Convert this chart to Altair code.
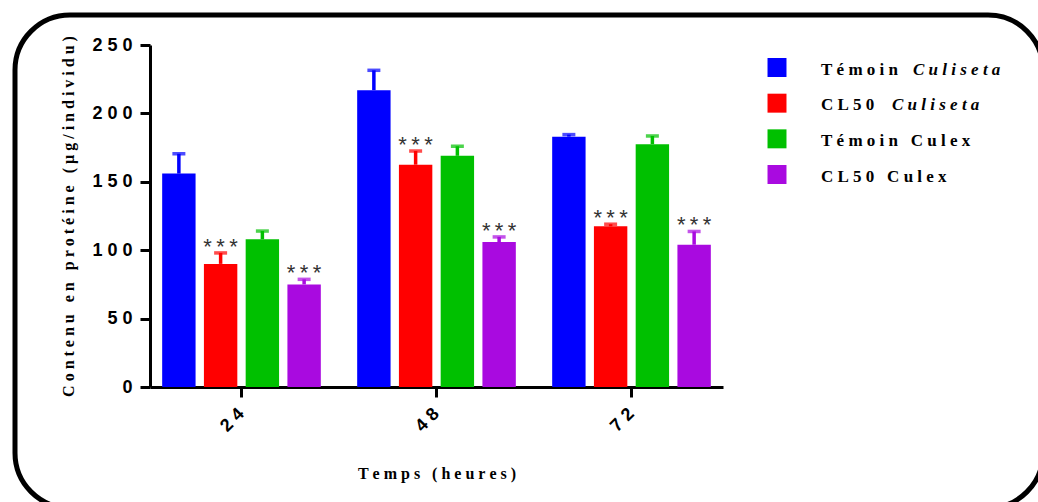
import altair as alt
import pandas as pd

# ---------------- data ----------------
times = ["24", "48", "72"]
series = ["Témoin Culiseta", "CL50 Culiseta", "Témoin Culex", "CL50 Culex"]
colors = ["#0000FF", "#FF0000", "#00C000", "#A90AE0"]

temoin_culiseta_mean = [156, 217, 183]
temoin_culiseta_sem = [14.5, 14.5, 1.5]
cl50_culiseta_mean = [90, 162.5, 117.5]
cl50_culiseta_sem = [8, 10, 1.5]
temoin_culex_mean = [108, 169, 177.5]
temoin_culex_sem = [6, 7, 6]
cl50_culex_mean = [75, 106, 104]
cl50_culex_sem = [3.7, 3.7, 9.7]
stars = ["", "***", "", "***"]

legend_upright = ["Témoin", "CL50", "Témoin Culex", "CL50 Culex"]
legend_italic = ["Culiseta", "Culiseta", "", ""]

y_ticks = [0, 50, 100, 150, 200, 250]

NB = "\u00a0"


def spaced(s):
    return NB.join(list(s.replace(" ", NB)))


means = [temoin_culiseta_mean, cl50_culiseta_mean, temoin_culex_mean, cl50_culex_mean]
sems = [temoin_culiseta_sem, cl50_culiseta_sem, temoin_culex_sem, cl50_culex_sem]

rows = []
for s, m, e, st in zip(series, means, sems, stars):
    for t, mv, ev in zip(times, m, e):
        rows.append({"time": t, "series": s, "mean": mv, "top": mv + ev,
                     "stars": "\u2009".join(list(st))})
df = pd.DataFrame(rows)

leg = pd.DataFrame({"series": series,
                    "up": [spaced(u) for u in legend_upright],
                    "it": [spaced(i) for i in legend_italic]})

LABEL_EXPR = "join(split(datum.label, ''), '\u00a0')"

# ---------------- encodings ----------------
X = alt.X("time:N", sort=times,
          scale=alt.Scale(paddingInner=0.1436, paddingOuter=0.041),
          title=spaced("Temps (heures)"),
          axis=alt.Axis(labelAngle=-45, labelAlign="right", labelBaseline="middle",
                        labelPadding=14, labelFont="Liberation Sans", labelFontWeight="bold",
                        labelFontSize=18, labelColor="black", labelExpr=LABEL_EXPR,
                        domainColor="black", domainWidth=3, tickColor="black",
                        tickWidth=3, tickSize=10,
                        titleFont="Liberation Serif", titleFontWeight="bold",
                        titleFontSize=16, titleColor="black", titlePadding=30))
XO = alt.XOffset("series:N", sort=series,
                 scale=alt.Scale(paddingInner=0.2, paddingOuter=0.1))
C = alt.Color("series:N", sort=series,
              scale=alt.Scale(domain=series, range=colors), legend=None)
YS = alt.Scale(domain=[0, 250], nice=False, zero=True)

Ymain = alt.Y("mean:Q", scale=YS,
              title=spaced("Contenu en protéine (µg/individu)"),
              axis=alt.Axis(values=y_ticks, grid=False,
                            labelFont="Liberation Sans", labelFontWeight="bold",
                            labelFontSize=18, labelColor="black", labelPadding=8,
                            labelExpr=LABEL_EXPR,
                            domainColor="black", domainWidth=3, tickColor="black",
                            tickWidth=3, tickSize=10,
                            titleFont="Liberation Serif", titleFontWeight="bold",
                            titleFontSize=16, titleColor="black", titlePadding=15))

base = alt.Chart(df)

frame = alt.Chart(pd.DataFrame({"k": [0]})).mark_rect(
    fillOpacity=0, stroke="black", strokeWidth=5, cornerRadius=55
).encode(x=alt.value(-135), x2=alt.value(893), y=alt.value(-30), y2=alt.value(463))

bars = base.mark_bar().encode(x=X, xOffset=XO, y=Ymain, color=C)
err = base.mark_rule(strokeWidth=3.5).encode(
    x=X, xOffset=XO, y=alt.Y("mean:Q", scale=YS), y2="top:Q", color=C)
caps = base.mark_tick(orient="horizontal", size=13, thickness=3.5).encode(
    x=X, xOffset=XO, y=alt.Y("top:Q", scale=YS), color=C)
star_txt = base.mark_text(font="Liberation Sans", fontSize=22, baseline="alphabetic",
                          dy=1, color="#333333").encode(
    x=X, xOffset=XO, y=alt.Y("top:Q", scale=YS), text="stars:N")

main = alt.layer(frame, bars, err, caps, star_txt)

LY = alt.Y("series:N", sort=series,
           scale=alt.Scale(type="point", domain=series, range=[22.5, 129.5], padding=0),
           axis=None)
lbase = alt.Chart(leg)
lsq = lbase.mark_square(size=360, opacity=1).encode(
    x=alt.value(627), y=LY, color=C)
ltxt = lbase.mark_text(align="left", baseline="middle", dy=2, font="Liberation Serif",
                       fontWeight="bold", fontSize=17, color="black").encode(
    x=alt.value(671), y=LY, text="up:N")
lit1 = lbase.transform_filter(alt.datum.series == series[0]).mark_text(
    align="left", baseline="middle", dy=2, font="Liberation Serif", fontWeight="bold",
    fontStyle="italic", fontSize=17, color="black").encode(
    x=alt.value(763), y=LY, text="it:N")
lit2 = lbase.transform_filter(alt.datum.series == series[1]).mark_text(
    align="left", baseline="middle", dy=2, font="Liberation Serif", fontWeight="bold",
    fontStyle="italic", fontSize=17, color="black").encode(
    x=alt.value(742), y=LY, text="it:N")
legend = alt.layer(lsq, ltxt, lit1, lit2)

chart = alt.layer(main, legend).resolve_scale(y="independent").properties(
    width=573, height=342,
    autosize=alt.AutoSizeParams(type="none"),
    padding={"left": 150, "top": 45, "right": 315, "bottom": 115},
    background="white",
).configure_view(stroke=None)

chart.save("out.html", embed_options={"renderer": "svg", "actions": False})
